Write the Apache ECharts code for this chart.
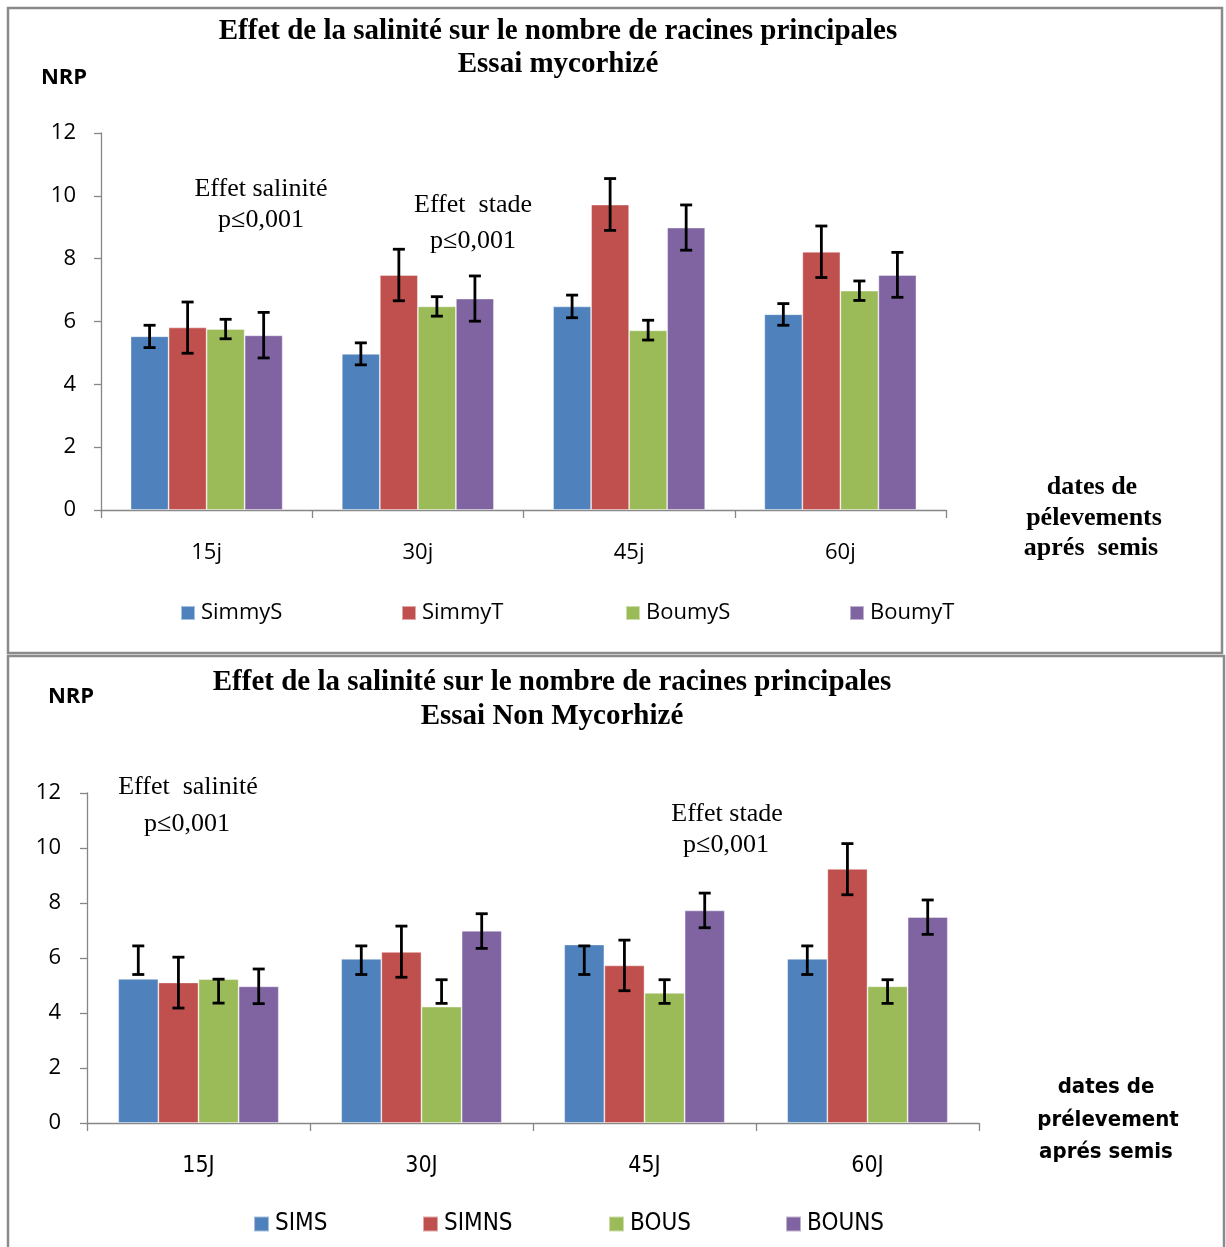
<!DOCTYPE html>
<html><head><meta charset="utf-8">
<script src="https://cdn.jsdelivr.net/npm/echarts@6/dist/echarts.min.js"></script>
<style>html,body{margin:0;padding:0;background:#fff}#c{width:1226px;height:1247px}</style>
</head><body><div id="c"></div>
<script>
// ---------- DATA ----------
const catsTop = ['15j', '30j', '45j', '60j'];
const namesTop = ['SimmyS', 'SimmyT', 'BoumyS', 'BoumyT'];
const simmyS = [5.53, 4.97, 6.48, 6.23];
const simmyT = [5.81, 7.48, 9.72, 8.22];
const boumyS = [5.76, 6.48, 5.72, 6.98];
const boumyT = [5.56, 6.73, 8.99, 7.48];
// error bar ends (low, high)
const simmySLow = [5.17, 4.62, 6.12, 5.88], simmySHigh = [5.88, 5.32, 6.84, 6.57];
const simmyTLow = [4.99, 6.66, 8.90, 7.40], simmyTHigh = [6.62, 8.30, 10.55, 9.04];
const boumySLow = [5.45, 6.17, 5.41, 6.67], boumySHigh = [6.07, 6.79, 6.04, 7.29];
const boumyTLow = [4.84, 6.01, 8.27, 6.77], boumyTHigh = [6.29, 7.45, 9.71, 8.20];

const catsBot = ['15J', '30J', '45J', '60J'];
const namesBot = ['SIMS', 'SIMNS', 'BOUS', 'BOUNS'];
const sims = [5.24, 5.97, 6.49, 5.97];
const simns = [5.11, 6.22, 5.73, 9.24];
const bous = [5.23, 4.23, 4.73, 4.97];
const bouns = [4.97, 6.99, 7.73, 7.49];
const simsLow = [5.40, 5.40, 5.40, 5.40], simsHigh = [6.44, 6.44, 6.44, 6.44];
const simnsLow = [4.18, 5.30, 4.81, 8.30], simnsHigh = [6.03, 7.16, 6.65, 10.16];
const bousLow = [4.36, 4.35, 4.35, 4.35], bousHigh = [5.23, 5.21, 5.21, 5.21];
const bounsLow = [4.34, 6.35, 7.10, 6.86], bounsHigh = [5.60, 7.61, 8.36, 8.11];

const yTicks = [0, 2, 4, 6, 8, 10, 12];

// ---------- STYLE ----------
const colors = ['#4F81BD', '#C0504D', '#9BBB59', '#8064A2'];
const sans = "'Open Sans', 'Noto Sans', sans-serif";
const narrow = "'Liberation Sans Narrow', 'DejaVu Sans Condensed', 'Roboto', sans-serif";
const serif = "'Liberation Serif', 'DejaVu Serif', serif";
const GAP = 0.28;

const topVals = [simmyS, simmyT, boumyS, boumyT];
const topLow = [simmySLow, simmyTLow, boumySLow, boumyTLow];
const topHigh = [simmySHigh, simmyTHigh, boumySHigh, boumyTHigh];
const botVals = [sims, simns, bous, bouns];
const botLow = [simsLow, simnsLow, bousLow, bounsLow];
const botHigh = [simsHigh, simnsHigh, bousHigh, bounsHigh];

function errData(low, high) {
  const d = [];
  for (let s = 0; s < low.length; s++)
    for (let c = 0; c < low[s].length; c++) d.push([c, s, low[s][c], high[s][c]]);
  return d;
}
function errRender(params, api) {
  const cat = api.value(0), si = api.value(1);
  const lo = api.coord([cat, api.value(2)]);
  const hi = api.coord([cat, api.value(3)]);
  const band = api.size([1, 0])[0];
  const inner = band * (1 - GAP);
  const bw = inner / 4;
  const x = lo[0] - inner / 2 + bw * (si + 0.5);
  const cap = 6;
  const st = { stroke: '#000', lineWidth: 2.8 };
  return { type: 'group', children: [
    { type: 'line', shape: { x1: x, y1: lo[1], x2: x, y2: hi[1] }, style: st },
    { type: 'line', shape: { x1: x - cap, y1: lo[1], x2: x + cap, y2: lo[1] }, style: st },
    { type: 'line', shape: { x1: x - cap, y1: hi[1], x2: x + cap, y2: hi[1] }, style: st }
  ]};
}
function xAxis(cats, gi, font, size, margin) {
  return { type: 'category', gridIndex: gi, data: cats,
    axisLine: { lineStyle: { color: '#868686', width: 1.3 } },
    axisTick: { show: true, length: 8, lineStyle: { color: '#868686', width: 1.3 } },
    axisLabel: { color: '#000', fontSize: size, fontFamily: font, margin: margin } };
}
function yAxis(gi, font, margin) {
  return { type: 'value', gridIndex: gi, min: yTicks[0], max: yTicks[yTicks.length - 1], interval: 2,
    splitLine: { show: false },
    axisLine: { show: true, lineStyle: { color: '#868686', width: 1.3 } },
    axisTick: { show: true, length: 7, lineStyle: { color: '#868686', width: 1.3 } },
    axisLabel: { color: '#000', fontSize: 22, fontFamily: font, margin: margin } };
}
const series = [];
namesTop.forEach((n, i) => series.push({ name: n, type: 'bar', xAxisIndex: 0, yAxisIndex: 0,
  data: topVals[i], barGap: '0%', barCategoryGap: (GAP * 100) + '%',
  itemStyle: { color: colors[i], borderColor: 'rgba(255,255,255,0.5)', borderWidth: 0.8 } }));
namesBot.forEach((n, i) => series.push({ name: n, type: 'bar', xAxisIndex: 1, yAxisIndex: 1,
  data: botVals[i], barGap: '0%', barCategoryGap: (GAP * 100) + '%',
  itemStyle: { color: colors[i], borderColor: 'rgba(255,255,255,0.5)', borderWidth: 0.8 } }));
series.push({ type: 'custom', xAxisIndex: 0, yAxisIndex: 0, renderItem: errRender,
  data: errData(topLow, topHigh), encode: { x: 0, y: [2, 3] }, z: 10, silent: true });
series.push({ type: 'custom', xAxisIndex: 1, yAxisIndex: 1, renderItem: errRender,
  data: errData(botLow, botHigh), encode: { x: 0, y: [2, 3] }, z: 10, silent: true });

const legTopX = [180, 401, 625, 849];
const legBotX = [253, 422, 608, 785];
const legends = [];
namesTop.forEach((n, i) => legends.push({ data: [{ name: n, icon: 'rect' }], left: legTopX[i], top: 602, padding: 0,
  itemWidth: 14, itemHeight: 14, itemGap: 0,
  selectedMode: false, textStyle: { fontSize: 22, fontFamily: sans, color: '#000', padding: [0, 0, 0, 1] } }));
namesBot.forEach((n, i) => legends.push({ data: [{ name: n, icon: 'rect' }], left: legBotX[i], top: 1212, padding: 0,
  itemWidth: 15, itemHeight: 15, itemGap: 0,
  selectedMode: false, textStyle: { fontSize: 24, fontFamily: narrow, color: '#000', padding: [0, 0, 0, 1] } }));

function txt(x, y, s, size, font, bold) {
  return { type: 'text', x: x, y: y, z: 20, style: { text: s, fontSize: size, fontFamily: font,
    fontWeight: bold ? 'bold' : 'normal', fill: '#000', align: 'center', verticalAlign: 'middle' } };
}
const graphic = [
  { type: 'rect', shape: { x: 8, y: 8, width: 1214, height: 645 }, style: { fill: 'none', stroke: '#8a8a8a', lineWidth: 2.5 }, z: 0 },
  { type: 'rect', shape: { x: 8, y: 656, width: 1216, height: 620 }, style: { fill: 'none', stroke: '#8a8a8a', lineWidth: 2.5 }, z: 0 },
  txt(558, 32, 'Effet de la salinité sur le nombre de racines principales', 29, serif, true),
  txt(558, 65, 'Essai mycorhizé', 29, serif, true),
  txt(64, 78, 'NRP', 22, sans, true),
  txt(261, 189, 'Effet salinité', 26, serif, false),
  txt(261, 220, 'p≤0,001', 26, serif, false),
  txt(473, 205, 'Effet  stade', 26, serif, false),
  txt(473, 241, 'p≤0,001', 26, serif, false),
  txt(1092, 487, 'dates de', 26, serif, true),
  txt(1094, 518, 'pélevements', 26, serif, true),
  txt(1091, 548, 'aprés  semis', 26, serif, true),
  txt(552, 683, 'Effet de la salinité sur le nombre de racines principales', 29, serif, true),
  txt(552, 717, 'Essai Non Mycorhizé', 29, serif, true),
  txt(71, 697, 'NRP', 22, sans, true),
  txt(188, 787, 'Effet  salinité', 26, serif, false),
  txt(187, 824, 'p≤0,001', 26, serif, false),
  txt(727, 814, 'Effet stade', 26, serif, false),
  txt(726, 845, 'p≤0,001', 26, serif, false),
  txt(1106, 1087, 'dates de', 22, narrow, true),
  txt(1108, 1120, 'prélevement', 22, narrow, true),
  txt(1106, 1152, 'aprés semis', 22, narrow, true)
];

const option = {
  animation: false,
  color: colors,
  grid: [
    { left: 101, top: 133, right: 280, height: 377 },
    { left: 87, top: 793, right: 247, height: 330 }
  ],
  xAxis: [xAxis(catsTop, 0, sans, 22, 32), xAxis(catsBot, 1, narrow, 23, 32)],
  yAxis: [yAxis(0, sans, 25), yAxis(1, sans, 26)],
  legend: legends,
  series: series,
  graphic: graphic
};
echarts.init(document.getElementById('c')).setOption(option);
</script></body></html>
